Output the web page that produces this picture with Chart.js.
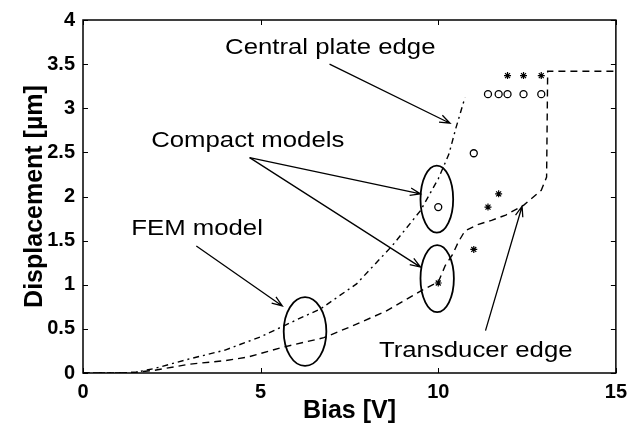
<!DOCTYPE html>
<html>
<head>
<meta charset="utf-8">
<script src="https://cdn.jsdelivr.net/npm/chart.js@4"></script>
<style>
  html, body { margin: 0; padding: 0; background: #fff; }
  #wrap { width: 634px; height: 435px; }
</style>
</head>
<body>
<div id="wrap"><canvas id="dispChart"></canvas></div>
<script>
// --- data ---
const plateFemX = [0, 1, 1.5, 2, 3, 4, 5, 6, 6.7, 7.7, 8.7, 9.5, 10, 10.3, 10.5, 10.75];
const plateFemY = [0, 0, 0.01, 0.05, 0.16, 0.26, 0.41, 0.6, 0.73, 1.01, 1.44, 1.84, 2.2, 2.48, 2.78, 3.12];

const transFemX = [0, 1, 1.5, 2, 3, 4, 4.64, 5.6, 6.78, 7.5, 8.53, 9.55, 10, 10.2, 10.4, 10.56, 10.75, 11.1, 11.5, 11.9, 12.4, 12.9, 13.05, 13.08, 15];
const transFemY = [0, 0, 0.01, 0.03, 0.1, 0.14, 0.18, 0.29, 0.4, 0.52, 0.7, 0.94, 1.03, 1.22, 1.34, 1.48, 1.61, 1.68, 1.73, 1.79, 1.9, 2.07, 2.22, 3.42, 3.42];

const compactX = [10, 11, 11.4, 11.7, 11.95, 12.4, 12.9];
const plateCompactY = [1.88, 2.49, 3.16, 3.16, 3.16, 3.16, 3.16];
const transCompactY = [1.02, 1.4, 1.88, 2.03, 3.37, 3.37, 3.37];

const xTicks = [0, 5, 10, 15];
const yTicks = [0, 0.5, 1, 1.5, 2, 2.5, 3, 3.5, 4];

const pts = (xs, ys) => xs.map((x, i) => ({ x: x, y: ys[i] }));

// annotations, in data units
const ellipses = [
  { x: 9.96, y: 1.97, rx: 0.46, ry: 0.38 },
  { x: 9.97, y: 1.07, rx: 0.47, ry: 0.38 },
  { x: 6.25, y: 0.47, rx: 0.6, ry: 0.39 }
];
const arrows = [
  { from: [6.94, 3.5], to: [10.33, 2.83] },
  { from: [4.69, 2.44], to: [9.5, 2.03] },
  { from: [4.69, 2.44], to: [9.5, 1.2] },
  { from: [3.19, 1.44], to: [5.61, 0.76] },
  { from: [11.33, 0.48], to: [12.36, 1.89] }
];
const notes = [
  { text: "Central plate edge", x: 4.0, y: 3.61 },
  { text: "Compact models", x: 1.92, y: 2.56 },
  { text: "FEM model", x: 1.36, y: 1.56 },
  { text: "Transducer edge", x: 8.33, y: 0.18 }
];

const FONT = "'Liberation Sans', Arial, sans-serif";

const framePlugin = {
  id: "frame",
  afterDraw(chart) {
    const { ctx, chartArea: a, scales: { x, y } } = chart;
    ctx.save();
    ctx.strokeStyle = "#000";
    ctx.lineWidth = 1.5;
    ctx.strokeRect(a.left, a.top, a.right - a.left, a.bottom - a.top);
    ctx.lineWidth = 1;
    ctx.beginPath();
    xTicks.forEach(v => {
      const px = Math.round(x.getPixelForValue(v)) + 0.5;
      ctx.moveTo(px, a.bottom); ctx.lineTo(px, a.bottom - 5);
      ctx.moveTo(px, a.top); ctx.lineTo(px, a.top + 5);
    });
    yTicks.forEach(v => {
      const py = Math.round(y.getPixelForValue(v)) + 0.5;
      ctx.moveTo(a.left, py); ctx.lineTo(a.left + 5, py);
      ctx.moveTo(a.right, py); ctx.lineTo(a.right - 5, py);
    });
    ctx.stroke();

    // ellipses
    ctx.lineWidth = 1.8;
    ellipses.forEach(e => {
      const cx = x.getPixelForValue(e.x), cy = y.getPixelForValue(e.y);
      const rx = x.getPixelForValue(e.x + e.rx) - cx;
      const ry = cy - y.getPixelForValue(e.y + e.ry);
      ctx.beginPath();
      ctx.ellipse(cx, cy, rx, ry, 0, 0, Math.PI * 2);
      ctx.stroke();
    });

    // arrows
    ctx.lineWidth = 1.3;
    arrows.forEach(ar => {
      const x0 = x.getPixelForValue(ar.from[0]), y0 = y.getPixelForValue(ar.from[1]);
      const x1 = x.getPixelForValue(ar.to[0]), y1 = y.getPixelForValue(ar.to[1]);
      const ang = Math.atan2(y1 - y0, x1 - x0);
      const h = 11, w = 0.35;
      ctx.beginPath();
      ctx.moveTo(x0, y0); ctx.lineTo(x1, y1);
      ctx.moveTo(x1 - h * Math.cos(ang - w), y1 - h * Math.sin(ang - w));
      ctx.lineTo(x1, y1);
      ctx.lineTo(x1 - h * Math.cos(ang + w), y1 - h * Math.sin(ang + w));
      ctx.stroke();
    });

    // text labels (slightly stretched, like the original figure)
    ctx.fillStyle = "#000";
    ctx.font = "22px " + FONT;
    ctx.textAlign = "left";
    ctx.textBaseline = "alphabetic";
    notes.forEach(n => {
      ctx.save();
      ctx.translate(x.getPixelForValue(n.x), y.getPixelForValue(n.y));
      ctx.scale(1.17, 1);
      ctx.fillText(n.text, 0, 0);
      ctx.restore();
    });
    ctx.restore();
  }
};

new Chart(document.getElementById("dispChart"), {
  type: "scatter",
  data: {
    datasets: [
      {
        label: "Central plate edge (FEM)",
        data: pts(plateFemX, plateFemY),
        showLine: true,
        borderColor: "#000",
        borderWidth: 1.4,
        borderDash: [6, 4, 2, 4],
        pointRadius: 0,
        tension: 0
      },
      {
        label: "Transducer edge (FEM)",
        data: pts(transFemX, transFemY),
        showLine: true,
        borderColor: "#000",
        borderWidth: 1.4,
        borderDash: [7, 5],
        pointRadius: 0,
        tension: 0
      },
      {
        label: "Central plate edge (compact)",
        data: pts(compactX, plateCompactY),
        pointStyle: "circle",
        pointRadius: 3.5,
        borderWidth: 1.3,
        borderColor: "#000",
        backgroundColor: "transparent"
      },
      {
        label: "Transducer edge (compact)",
        data: pts(compactX, transCompactY),
        pointStyle: "star",
        pointRadius: 3.5,
        borderWidth: 1.2,
        borderColor: "#000",
        backgroundColor: "#000"
      }
    ]
  },
  options: {
    responsive: true,
    maintainAspectRatio: false,
    animation: false,
    layout: { padding: { top: 13, right: 11, left: 0, bottom: 0 } },
    plugins: {
      legend: { display: false },
      tooltip: { enabled: false }
    },
    scales: {
      x: {
        type: "linear",
        min: 0,
        max: 15,
        afterBuildTicks: s => { s.ticks = xTicks.map(v => ({ value: v })); },
        afterFit: s => { s.height = 62; },
        grid: { display: false, drawTicks: false },
        border: { display: false },
        ticks: {
          color: "#000",
          padding: 7,
          font: { family: FONT, size: 20, weight: "bold" },
          callback: v => String(v)
        },
        title: {
          display: true,
          text: "Bias [V]",
          color: "#000",
          padding: { top: 0, bottom: 9 },
          font: { family: FONT, size: 25, weight: "bold" }
        }
      },
      y: {
        type: "linear",
        min: 0,
        max: 4,
        afterBuildTicks: s => { s.ticks = yTicks.map(v => ({ value: v })); },
        afterFit: s => { s.width = 83; },
        grid: { display: false, drawTicks: false },
        border: { display: false },
        ticks: {
          color: "#000",
          padding: 8,
          font: { family: FONT, size: 20, weight: "bold" },
          callback: v => String(v)
        },
        title: {
          display: true,
          text: "Displacement [µm]",
          color: "#000",
          padding: { top: 20, bottom: 0 },
          font: { family: FONT, size: 25, weight: "bold" }
        }
      }
    }
  },
  plugins: [framePlugin]
});
</script>
</body>
</html>
